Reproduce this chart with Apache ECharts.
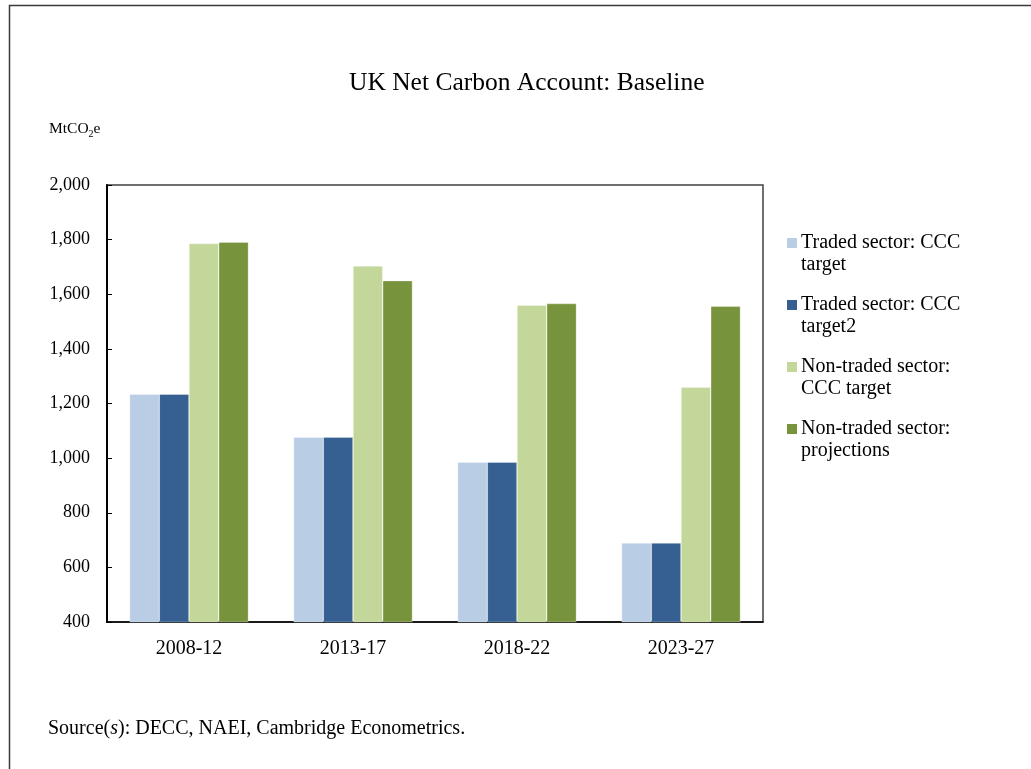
<!DOCTYPE html>
<html>
<head>
<meta charset="utf-8">
<script src="https://cdn.jsdelivr.net/npm/echarts@6/dist/echarts.min.js"></script>
<style>
html,body{margin:0;padding:0;background:#fff;}
#c{width:1031px;height:769px;}
</style>
</head>
<body>
<div id="c"></div>
<script>
const categories = ['2008-12', '2013-17', '2018-22', '2023-27'];
const seriesNames = ['Traded sector: CCC target', 'Traded sector: CCC target2', 'Non-traded sector: CCC target', 'Non-traded sector: projections'];
const legendLines = [['Traded sector: CCC', 'target'], ['Traded sector: CCC', 'target2'], ['Non-traded sector:', 'CCC target'], ['Non-traded sector:', 'projections']];
const tradedTarget = [1234, 1077, 985, 689];
const tradedTarget2 = [1234, 1077, 985, 689];
const nonTradedTarget = [1786, 1704, 1560, 1260];
const nonTradedProjections = [1791, 1650, 1566, 1556];
const colors = ['#B9CDE5', '#376092', '#C4D79B', '#77933C'];
const yMin = 400, yMax = 2000, yStep = 200;

const FONT = '"Liberation Serif", "Times New Roman", serif';
const allValues = [tradedTarget, tradedTarget2, nonTradedTarget, nonTradedProjections];

const rich = {
  t: { fontFamily: FONT, fontSize: 20, lineHeight: 22, color: '#000' },
  sp: { width: 4 },
  ind: { width: 14 }
};
colors.forEach((c, i) => { rich['sq' + i] = { width: 10, height: 10, backgroundColor: c }; });

const chart = echarts.init(document.getElementById('c'), null, { renderer: 'canvas' });
chart.setOption({
  animation: false,
  backgroundColor: '#fff',
  color: colors,
  textStyle: { fontFamily: FONT },
  title: {
    text: 'UK Net Carbon Account: Baseline',
    left: 349, top: 70, padding: 0,
    textStyle: { fontFamily: FONT, fontSize: 25.5, fontWeight: 'normal', color: '#000' }
  },
  grid: {
    left: 107, right: 268, top: 185, bottom: 147,
    show: true, borderColor: '#404040', borderWidth: 1.5, backgroundColor: 'transparent'
  },
  legend: {
    orient: 'vertical',
    left: 781, top: 232, padding: 0,
    itemWidth: 0, itemHeight: 0, itemGap: 18,
    data: seriesNames,
    selectedMode: false,
    formatter: function (name) {
      const i = seriesNames.indexOf(name);
      return '{sq' + i + '|}{sp|}{t|' + legendLines[i][0] + '}\n{ind|}{t|' + legendLines[i][1] + '}';
    },
    textStyle: { fontFamily: FONT, fontSize: 20, lineHeight: 22, color: '#000', rich: rich }
  },
  xAxis: {
    type: 'category',
    data: categories,
    axisLine: { lineStyle: { color: '#000', width: 1.5 } },
    axisTick: { inside: true, length: 5, lineStyle: { color: '#000' } },
    axisLabel: { fontFamily: FONT, fontSize: 20, color: '#000', margin: 17 }
  },
  yAxis: {
    type: 'value',
    min: yMin, max: yMax, interval: yStep,
    axisLine: { show: true, lineStyle: { color: '#000', width: 2 } },
    axisTick: { show: true, inside: true, length: 5, lineStyle: { color: '#000' } },
    splitLine: { show: false },
    axisLabel: {
      fontFamily: FONT, fontSize: 18, color: '#000', margin: 17,
      formatter: v => v.toLocaleString('en-US')
    }
  },
  series: seriesNames.map((n, i) => ({
    name: n,
    type: 'bar',
    data: allValues[i],
    barGap: '0%',
    barCategoryGap: '27.5%',
    itemStyle: { color: colors[i], borderColor: 'rgba(255,255,255,0.5)', borderWidth: 0.6 }
  })),
  graphic: [
    {
      type: 'rect', silent: true, z: 100,
      shape: { x: 9.5, y: 5.5, width: 1100, height: 1000 },
      style: { fill: 'none', stroke: '#3a3a3a', lineWidth: 1.5 }
    },
    {
      type: 'text', left: 49, top: 121, silent: true,
      style: {
        text: '{a|MtCO}{s|2}{a|e}',
        rich: {
          a: { fontFamily: FONT, fontSize: 15.5, lineHeight: 18, verticalAlign: 'top', fill: '#000' },
          s: { fontFamily: FONT, fontSize: 10, lineHeight: 10, verticalAlign: 'bottom', fill: '#000' }
        }
      }
    },
    {
      type: 'text', left: 48, top: 719, silent: true,
      style: {
        text: '{n|Source(}{i|s}{n|): DECC, NAEI, Cambridge Econometrics.}',
        rich: {
          n: { fontFamily: FONT, fontSize: 20, lineHeight: 22, fill: '#000' },
          i: { fontFamily: FONT, fontSize: 20, lineHeight: 22, fontStyle: 'italic', fill: '#000' }
        }
      }
    }
  ]
});
</script>
</body>
</html>
